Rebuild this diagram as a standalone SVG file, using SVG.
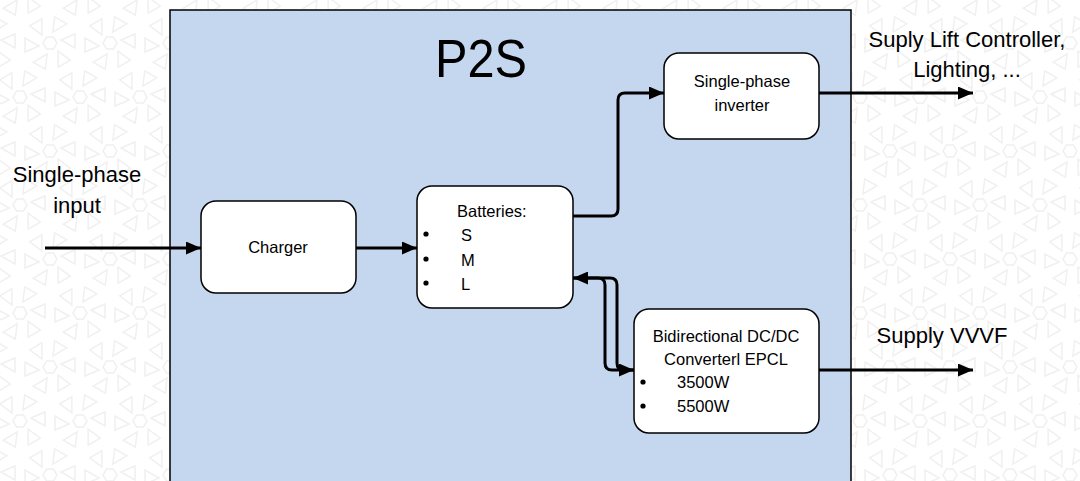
<svg xmlns="http://www.w3.org/2000/svg" xmlns:xlink="http://www.w3.org/1999/xlink" width="1080" height="481" viewBox="0 0 1080 481">
<style>
.box{fill:#ffffff;stroke:#000000;stroke-width:1.5}
.t{font-family:"Liberation Sans",Arial,sans-serif;fill:#000000}
.lbl{font-size:22px}
.in{font-size:16.5px}
.c{fill:none;stroke:#000000;stroke-width:3;stroke-linejoin:round}
.fl{fill:none;stroke:#f0f0f0;stroke-width:1.5}
</style>
<defs>
<marker id="ah" viewBox="0 0 15 13" refX="15" refY="6.5" markerWidth="15" markerHeight="13" markerUnits="userSpaceOnUse" orient="auto">
<path d="M0,0 L15,6.5 L0,13 Z" fill="#000000"/>
</marker>
<g id="flower" class="fl">
<polygon points="7,0 3.5,6.06 -3.5,6.06 -7,0 -3.5,-6.06 3.5,-6.06"/>
<path d="M11,-3 L25,-9 L25,5 Z"/>
<path d="M11,-3 L25,-9 L25,5 Z" transform="rotate(60)"/>
<path d="M11,-3 L25,-9 L25,5 Z" transform="rotate(120)"/>
<path d="M11,-3 L25,-9 L25,5 Z" transform="rotate(180)"/>
<path d="M11,-3 L25,-9 L25,5 Z" transform="rotate(240)"/>
<path d="M11,-3 L25,-9 L25,5 Z" transform="rotate(300)"/>
</g>
<pattern id="bgp" patternUnits="userSpaceOnUse" x="20" y="16" width="60" height="108">
<use xlink:href="#flower" transform="translate(30,27)"/>
<use xlink:href="#flower" transform="translate(0,81)"/>
<use xlink:href="#flower" transform="translate(60,81)"/>
<use xlink:href="#flower" transform="translate(30,135)"/>
<use xlink:href="#flower" transform="translate(0,-27)"/>
<use xlink:href="#flower" transform="translate(60,-27)"/>
<use xlink:href="#flower" transform="translate(-30,27)"/>
<use xlink:href="#flower" transform="translate(90,27)"/>
</pattern>
</defs>
<rect x="0" y="0" width="1080" height="481" fill="#ffffff"/>
<rect x="0" y="0" width="1080" height="481" fill="url(#bgp)"/>

<g id="p2s">
<rect x="170" y="10" width="681" height="480" fill="#c5d7ee" stroke="#000000" stroke-width="1.5"/>
<text class="t" x="481" y="77" font-size="53" text-anchor="middle" textLength="92" lengthAdjust="spacingAndGlyphs">P2S</text>
</g>

<g id="charger">
<rect class="box" x="201" y="201" width="155" height="92" rx="15"/>
<text class="t in" x="278" y="253" text-anchor="middle">Charger</text>
</g>

<g id="batteries">
<rect class="box" x="417" y="186" width="156" height="122" rx="15"/>
<text class="t in" x="457" y="217">Batteries:</text>
<circle cx="426" cy="234" r="2.6"/>
<circle cx="426" cy="259" r="2.6"/>
<circle cx="426" cy="283" r="2.6"/>
<text class="t in" x="461" y="241">S</text>
<text class="t in" x="461" y="266">M</text>
<text class="t in" x="461" y="290">L</text>
</g>

<g id="inverter">
<rect class="box" x="664" y="53" width="155" height="86" rx="15"/>
<text class="t in" x="742" y="87" text-anchor="middle">Single-phase</text>
<text class="t in" x="742" y="111" text-anchor="middle">inverter</text>
</g>

<g id="dcdc">
<rect class="box" x="634" y="309" width="185" height="124" rx="15"/>
<text class="t in" x="726" y="342" text-anchor="middle">Bidirectional DC/DC</text>
<text class="t in" x="726" y="365" text-anchor="middle">Converterl EPCL</text>
<circle cx="643" cy="382" r="2.6"/>
<circle cx="643" cy="406" r="2.6"/>
<text class="t in" x="677" y="388">3500W</text>
<text class="t in" x="677" y="412">5500W</text>
</g>

<g id="labels">
<text class="t lbl" x="77" y="182" text-anchor="middle">Single-phase</text>
<text class="t lbl" x="77" y="213" text-anchor="middle">input</text>
<text class="t lbl" x="967" y="47" text-anchor="middle">Suply Lift Controller,</text>
<text class="t lbl" x="967" y="77" text-anchor="middle">Lighting, ...</text>
<text class="t lbl" x="942" y="343" text-anchor="middle">Supply VVVF</text>
</g>

<g id="connectors">
<path class="c" d="M45,248 H201" marker-end="url(#ah)"/>
<path class="c" d="M356,248 H417" marker-end="url(#ah)"/>
<path class="c" d="M573,216 H611 Q618,216 618,209 V100 Q618,93 625,93 H664" marker-end="url(#ah)"/>
<path class="c" d="M819,93 H973" marker-end="url(#ah)"/>
<path class="c" d="M573,278 H610 Q617,278 617,285 V363 Q617,370 624,370 H634" marker-end="url(#ah)"/>
<path class="c" d="M634,370 H612 Q605,370 605,363 V285 Q605,278 598,278 H573" marker-end="url(#ah)"/>
<path class="c" d="M819,370 H973" marker-end="url(#ah)"/>
</g>
</svg>
